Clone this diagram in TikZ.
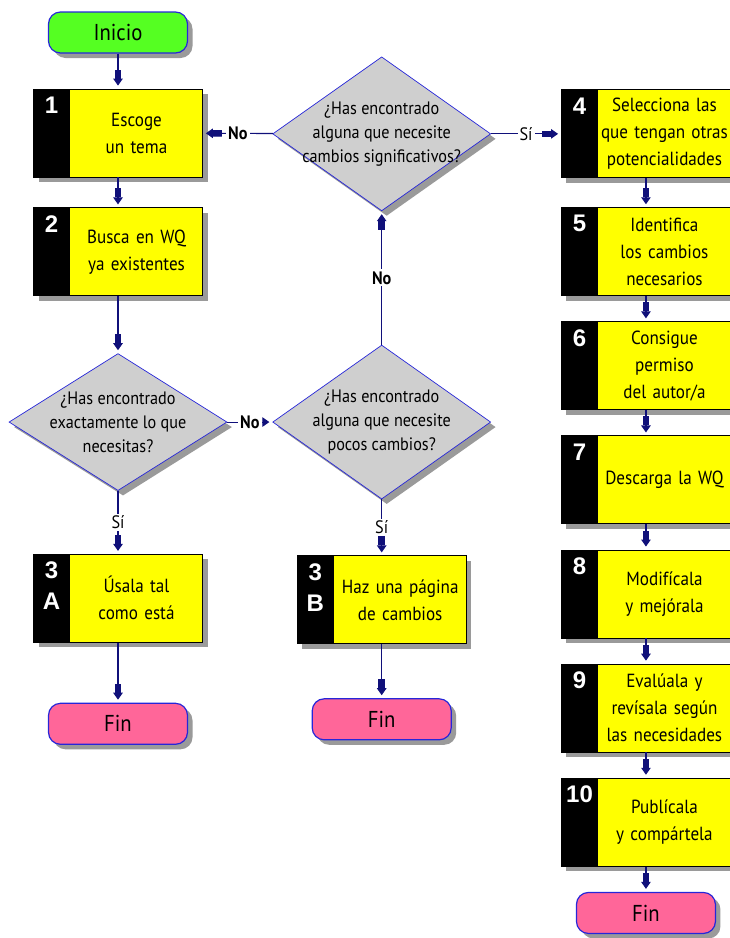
\documentclass[tikz,border=0pt]{standalone}
\usepackage{fontspec}
\setmainfont{PT Sans}[FakeStretch=0.9]
\newfontfamily\numfont{Liberation Sans}
\usetikzlibrary{arrows.meta,positioning,shapes.geometric,shadows}
\definecolor{amarillo}{HTML}{FFFF00}
\definecolor{verde}{HTML}{55FF22}
\definecolor{rosa}{HTML}{FF6699}
\definecolor{gris}{HTML}{CFCFCF}
\definecolor{borde}{HTML}{2626D9}
\definecolor{flecha}{HTML}{10107A}
\definecolor{sombra}{HTML}{9A9A9A}
\tikzset{>=Stealth}

\begin{document}
\begin{tikzpicture}[
    x=1pt, y=1pt,
    node distance=25.3pt and 45pt,
    sombreado/.style={drop shadow={shadow xshift=5pt, shadow yshift=-5pt, fill=sombra, opacity=1}},
    paso/.style={draw=black, line width=0.8pt, fill=amarillo, minimum width=169pt, minimum height=88pt,
                 text width=169pt, inner xsep=0pt, inner ysep=0pt, align=center, sombreado,
                 font=\fontsize{19}{27}\selectfont,
                 execute at begin node={\leftskip=37pt plus 1fil\rightskip=0pt plus 1fil\parfillskip=0pt}},
    num/.style={text=white, inner sep=0pt, align=center, font=\numfont\bfseries\fontsize{24}{31}\selectfont},
    term/.style={draw=borde, line width=1.2pt, rounded corners=12pt, minimum width=139pt,
                 minimum height=41pt, font=\fontsize{23}{26}\selectfont, sombreado},
    pregunta/.style={diamond, aspect=1.4, draw=borde, line width=0.7pt, fill=gris, minimum width=218pt,
                     minimum height=154pt, inner xsep=-22pt, inner ysep=-10pt, align=center, sombreado,
                     font=\fontsize{18}{24}\selectfont},
    arr/.style={draw=flecha, line width=1.1pt, shorten >=3pt,
                -{Rectangle[length=9pt,width=6.5pt]Triangle[length=7pt,width=9.5pt]}},
    lbl/.style={fill=white, inner sep=2pt, font=\fontsize{18}{20}\selectfont},
    lblno/.style={lbl, font=\bfseries\fontsize{18}{20}\selectfont}
  ]
    \useasboundingbox (0,0) rectangle (730,-938);

    % columna izquierda
    \node[term, fill=verde] (ini) at (118,-32.5) {Inicio};
    \node[paso, below=35pt of ini] (p1) {Escoge\\un tema};
    \node[paso, below=30pt of p1]  (p2) {Busca en WQ\\ya existentes};
    \node[pregunta, below=57pt of p2, minimum height=137pt] (d1) {¿Has encontrado\\exactamente lo que\\necesitas?};
    \node[paso, below=63pt of d1]  (p3a) {Úsala tal\\como está};
    \node[term, fill=rosa, below=60pt of p3a] (fin1) {Fin};

    % columna central
    \node[pregunta, right=45pt of d1] (dmid) {¿Has encontrado\\alguna que necesite\\pocos cambios?};
    \node[pregunta, above=133.5pt of dmid] (dtop) {¿Has encontrado\\alguna que necesite\\cambios significativos?};
    \node[paso, below=56pt of dmid] (p3b) {Haz una página\\de cambios};
    \node[term, fill=rosa, below=54pt of p3b] (fin2) {Fin};

    % columna derecha
    \node[paso, right=70pt of dtop] (p4) {Selecciona las\\que tengan otras\\potencialidades};
    \node[paso, below=29pt of p4] (p5) {Identifica\\los cambios\\necesarios};
    \node[paso, below=of p5] (p6) {Consigue\\permiso\\del autor/a};
    \node[paso, below=of p6] (p7) {Descarga la WQ};
    \node[paso, below=of p7] (p8) {Modifícala\\y mejórala};
    \node[paso, below=of p8] (p9) {Evalúala y\\revísala según\\las necesidades};
    \node[paso, below=of p9] (p10) {Publícala\\y compártela};
    \node[term, fill=rosa, below=of p10] (fin3) {Fin};

    % franjas negras con el numero
    \foreach \n/\t in {p1/1, p2/2, p3a/3\\A, p3b/3\\B, p4/4, p5/5, p6/6, p7/7, p8/8, p9/9, p10/10} {
      \fill[black] (\n.north west) rectangle ([xshift=37pt]\n.south west);
      \node[num, anchor=north] (\n-num) at ([xshift=18.5pt, yshift=-8pt]\n.north west) {\t};
    }

    \draw[arr] (ini) -- (p1);
    \draw[arr] (p1)  -- (p2);
    \draw[arr] (p2)  -- (d1);
    \draw[arr] (d1)  -- node[lbl] (si1) {Sí} (p3a);
    \draw[arr] (p3a) -- (fin1);
    \draw[arr] (d1)  -- node[lblno] (no1) {No} (dmid);
    \draw[arr] (dmid) -- node[lblno] (no2) {No} (dtop);
    \draw[arr] (dmid) -- node[lbl] (si2) {Sí} (p3b);
    \draw[arr] (p3b) -- (fin2);
    \draw[arr] (dtop) -- node[lblno] (no3) {No} (p1);
    \draw[arr] (dtop) -- node[lbl] (si3) {Sí} (p4);
    \draw[arr] (p4) -- (p5);
    \draw[arr] (p5) -- (p6);
    \draw[arr] (p6) -- (p7);
    \draw[arr] (p7) -- (p8);
    \draw[arr] (p8) -- (p9);
    \draw[arr] (p9) -- (p10);
    \draw[arr] (p10) -- (fin3);
  \end{tikzpicture}
\end{document}
